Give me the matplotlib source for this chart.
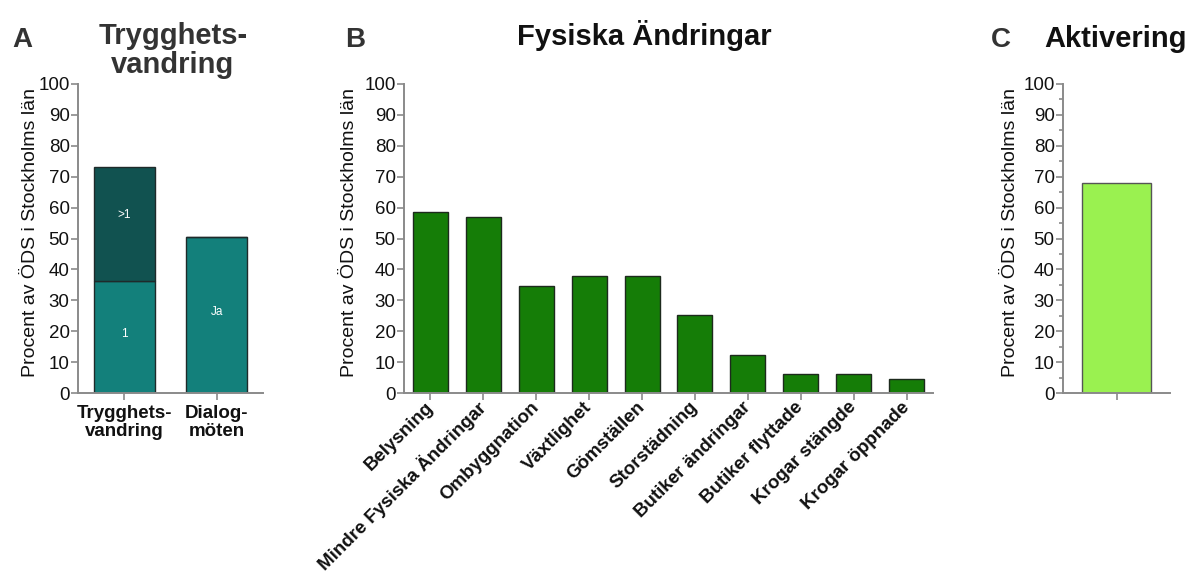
import matplotlib
matplotlib.use("Agg")
import matplotlib.pyplot as plt

plt.rcParams["font.family"] = ["Liberation Sans", "DejaVu Sans"]

# panel A: trygghetsvandring (stacked: 1 / >1) and dialogmöten
a_cats = ["Trygghets-\nvandring", "Dialog-\nmöten"]
a_once = [36.2, 50.5]
a_more = [36.8, 0.0]
a_labels_low = ["1", "Ja"]
a_labels_high = [">1", ""]

# panel B: fysiska ändringar
b_cats = ["Belysning", "Mindre Fysiska Ändringar", "Ombyggnation", "Växtlighet",
          "Gömställen", "Storstädning", "Butiker ändringar", "Butiker flyttade",
          "Krogar stängde", "Krogar öppnade"]
b_vals = [58.5, 57.0, 34.6, 37.8, 37.8, 25.1, 12.4, 6.0, 6.1, 4.5]

# panel C: aktivering
c_vals = [68.1]

YLAB = "Procent av ÖDS i Stockholms län"
SPINE = "#8a8a8a"
W, H = 1193, 579

fig = plt.figure(figsize=(W / 100, H / 100), dpi=100)

def px_axes(x0, x1, y0=84, y1=393):
    return fig.add_axes([x0 / W, 1 - y1 / H, (x1 - x0) / W, (y1 - y0) / H])

def fig_text(x, y, s, **kw):
    return fig.text(x / W, 1 - y / H, s, **kw)

def style(ax, label_x, minor=False):
    for s in ("top", "right"):
        ax.spines[s].set_visible(False)
    for s in ("left", "bottom"):
        ax.spines[s].set_color(SPINE)
        ax.spines[s].set_linewidth(1.4)
    ax.set_ylim(0, 100)
    ax.set_yticks(range(0, 101, 10))
    if minor:
        ax.set_yticks(range(5, 100, 10), minor=True)
    ax.tick_params(axis="both", which="both", color=SPINE, width=1.2, labelsize=13.5,
                   labelcolor="#111111")
    ax.tick_params(axis="both", which="major", length=5)
    ax.tick_params(axis="y", which="minor", length=3)
    ax.tick_params(axis="y", pad=1)
    ax.set_ylabel(YLAB, fontsize=14, color="#111111")
    ax.yaxis.set_label_coords(label_x, 0.521)

TITLE = dict(fontsize=21, fontweight="bold")
LETTER = dict(fontsize=20, fontweight="bold", color="#333333", va="baseline")

# --- A
axA = px_axes(78, 263)
xa = range(len(a_cats))
axA.bar(xa, a_once, width=0.66, color="#13807b", edgecolor="#1f2a2a", linewidth=1.0)
axA.bar(xa, a_more, width=0.66, bottom=a_once, color="#115250", edgecolor="#1f2a2a",
        linewidth=1.0)
for i in xa:
    axA.text(i, a_once[i] / 2 + 1, a_labels_low[i], color="white", ha="center",
             va="center", fontsize=8.5)
    if a_more[i] > 0:
        axA.text(i, a_once[i] + a_more[i] / 2 + 3, a_labels_high[i], color="white",
                 ha="center", va="center", fontsize=8.5)
axA.set_xlim(-0.5, 1.5)
axA.set_xticks(list(xa))
axA.set_xticklabels(a_cats, fontweight="bold", fontsize=12.5, linespacing=1.1)
style(axA, -0.210)
fig_text(173, 73, "Trygghets-\nvandring", ha="center", va="baseline",
         color="#333333", linespacing=1.05, **TITLE)
fig_text(12, 47, "A", **LETTER)

# --- B
axB = px_axes(404, 933)
xb = range(len(b_cats))
axB.bar(xb, b_vals, width=0.66, color="#157d07", edgecolor="#1d2a1d", linewidth=1.0)
axB.set_xlim(-0.5, len(b_cats) - 0.5)
axB.set_xticks(list(xb))
axB.set_xticklabels(b_cats, rotation=45, ha="right", va="center",
                    rotation_mode="anchor", fontweight="bold", fontsize=12)
style(axB, -0.087)
fig_text(644, 45, "Fysiska Ändringar", ha="center", va="baseline",
         color="#111111", **TITLE)
fig_text(345, 47, "B", **LETTER)

# --- C
axC = px_axes(1063, 1170)
axC.bar([0], c_vals, width=0.65, color="#9af150", edgecolor="#555555", linewidth=1.0)
axC.set_xlim(-0.5, 0.5)
axC.set_xticks([0])
axC.set_xticklabels([""])
style(axC, -0.412, minor=True)
fig_text(1116, 47, "Aktivering", ha="center", va="baseline",
         color="#111111", **TITLE)
fig_text(991, 47, "C", **LETTER)

fig.savefig("out.png", dpi=100)
